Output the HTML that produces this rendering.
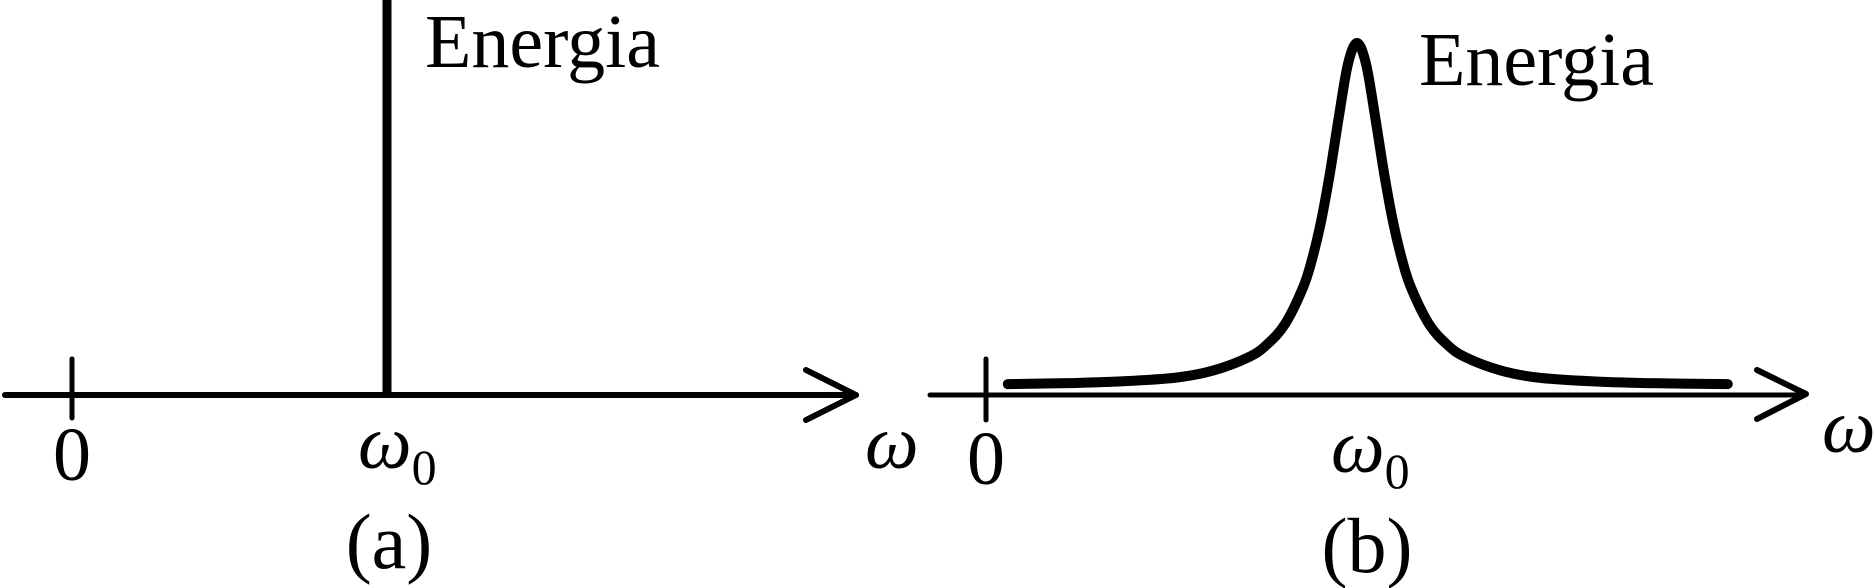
<!DOCTYPE html>
<html><head><meta charset="utf-8"><style>
html,body{margin:0;padding:0;background:#fff;}
svg{display:block;}
text{font-family:"Liberation Serif",serif;fill:#000;}
</style></head><body>
<svg id="chart" width="1874" height="588" viewBox="0 0 1874 588">
  <g>
    <line x1="5" y1="395" x2="856" y2="395" stroke="#000" stroke-width="6" stroke-linecap="round"/>
    <polyline points="806,370 856,395 806,420" fill="none" stroke="#000" stroke-width="6" stroke-linecap="round" stroke-linejoin="round"/>
    <line x1="72" y1="359" x2="72" y2="418" stroke="#000" stroke-width="5" stroke-linecap="round"/>
    <line x1="387" y1="0" x2="387" y2="396" stroke="#000" stroke-width="9"/>
    <text x="425" y="67" font-size="76">Energia</text>
    <text x="72" y="480" font-size="76" text-anchor="middle">0</text>
    <text x="358" y="468" font-size="76" font-style="italic">ω<tspan font-size="50" font-style="normal" dy="16">0</tspan></text>
    <text x="865" y="468" font-size="76" font-style="italic">ω</text>
    <text x="389" y="568" font-size="78" text-anchor="middle">(a)</text>
  </g>
  <g id="panelB">
    <line x1="930" y1="395" x2="1804" y2="395" stroke="#000" stroke-width="5" stroke-linecap="round"/>
    <polyline points="1757,370 1806,394 1757,419" fill="none" stroke="#000" stroke-width="6" stroke-linecap="round" stroke-linejoin="round"/>
    <line x1="986" y1="359" x2="986" y2="420" stroke="#000" stroke-width="5" stroke-linecap="round"/>
    <text x="1419" y="85" font-size="76">Energia</text>
    <text x="986" y="484" font-size="76" text-anchor="middle">0</text>
    <text x="1331" y="472" font-size="76" font-style="italic">ω<tspan font-size="50" font-style="normal" dy="16">0</tspan></text>
    <text x="1822" y="452" font-size="76" font-style="italic">ω</text>
    <text x="1367" y="572" font-size="78" text-anchor="middle">(b)</text>
  </g>
</svg>
<script>
// Relative frequency offsets from ω0 (units of ~360px) and energy
const omegaOffsets = [-0.97,-0.8,-0.65,-0.5,-0.4,-0.3,-0.25,-0.2,-0.15,-0.125,-0.1,-0.075,-0.05,-0.025,0,0.025,0.05,0.075,0.1,0.125,0.15,0.2,0.25,0.3,0.4,0.5,0.65,0.8,1.03];
const energyValues = [0.017,0.02,0.025,0.036,0.056,0.095,0.131,0.19,0.295,0.376,0.485,0.626,0.79,0.94,1,0.94,0.79,0.626,0.485,0.376,0.295,0.19,0.131,0.095,0.056,0.036,0.025,0.02,0.017];

function xScale(w){ return 1357 + w*360; }
function yScale(e){ return 390 - e*347; }

const pts = omegaOffsets.map((w,i)=>[xScale(w), yScale(energyValues[i])]);
let d = "M" + pts[0][0].toFixed(1) + "," + pts[0][1].toFixed(1);
for (let i=0;i<pts.length-1;i++){
  const p0 = pts[Math.max(0,i-1)], p1 = pts[i], p2 = pts[i+1], p3 = pts[Math.min(pts.length-1,i+2)];
  const c1x = p1[0] + (p2[0]-p0[0])/6, c1y = p1[1] + (p2[1]-p0[1])/6;
  const c2x = p2[0] - (p3[0]-p1[0])/6, c2y = p2[1] - (p3[1]-p1[1])/6;
  d += " C" + c1x.toFixed(1)+","+c1y.toFixed(1)+" "+c2x.toFixed(1)+","+c2y.toFixed(1)+" "+p2[0].toFixed(1)+","+p2[1].toFixed(1);
}
const svgNS = "http://www.w3.org/2000/svg";
const path = document.createElementNS(svgNS,"path");
path.setAttribute("d", d);
path.setAttribute("fill","none");
path.setAttribute("stroke","#000");
path.setAttribute("stroke-width","10");
path.setAttribute("stroke-linecap","round");
path.setAttribute("stroke-linejoin","round");


document.getElementById("panelB").appendChild(path);
</script>
</body></html>
